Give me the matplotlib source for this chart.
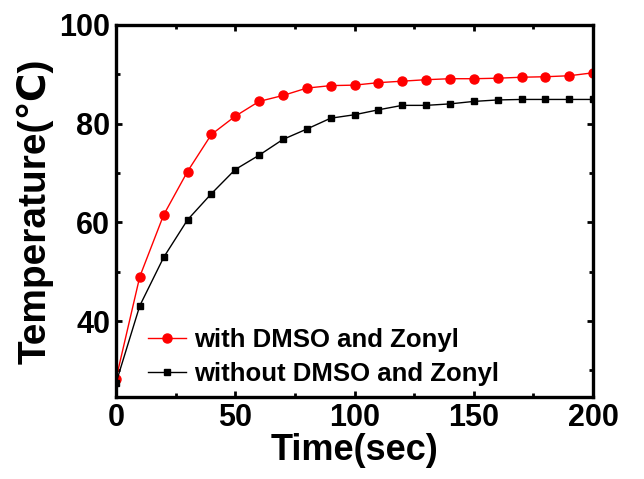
import matplotlib
matplotlib.use("Agg")
import matplotlib.pyplot as plt
from matplotlib.ticker import MultipleLocator

time_sec = [0, 10, 20, 30, 40, 50, 60, 70, 80, 90, 100,
            110, 120, 130, 140, 150, 160, 170, 180, 190, 200]
temp_with = [28.2, 49.0, 61.5, 70.3, 77.8, 81.5, 84.5, 85.7, 87.2, 87.7, 87.8,
             88.3, 88.6, 88.9, 89.1, 89.1, 89.2, 89.4, 89.5, 89.7, 90.3]
temp_without = [27.4, 43.1, 52.9, 60.5, 65.8, 70.7, 73.6, 76.8, 78.9, 81.1, 81.8,
                82.8, 83.7, 83.7, 84.0, 84.5, 84.8, 84.9, 84.9, 84.9, 84.9]

plt.rcParams['font.family'] = ['Liberation Sans', 'DejaVu Sans']
plt.rcParams['font.weight'] = 'bold'

fig = plt.figure(figsize=(6.44, 4.79), dpi=100)
ax = fig.add_axes([0.180, 0.171, 0.741, 0.777])

ax.plot(time_sec, temp_with, color='red', marker='o', markersize=6.5,
        linewidth=1.0, label='with DMSO and Zonyl')
ax.plot(time_sec, temp_without, color='black', marker='s', markersize=5,
        linewidth=1.0, label='without DMSO and Zonyl')

ax.set_xlim(0, 200)
ax.set_ylim(24.6, 100)
ax.xaxis.set_major_locator(MultipleLocator(50))
ax.xaxis.set_minor_locator(MultipleLocator(25))
ax.yaxis.set_major_locator(MultipleLocator(20))
ax.yaxis.set_minor_locator(MultipleLocator(10))

for s in ax.spines.values():
    s.set_linewidth(2.4)
ax.tick_params(which='both', direction='in', top=True, right=True,
               width=2.0, labelsize=22, pad=4)
ax.tick_params(which='major', length=4)
ax.tick_params(which='minor', length=3)
for lab in ax.get_xticklabels() + ax.get_yticklabels():
    lab.set_fontweight('bold')

ax.set_xlabel('Time(sec)', fontsize=26, fontweight='bold', labelpad=0)
ax.set_ylabel('Temperature(\u2103)', fontsize=28, fontweight='bold', labelpad=4)

ax.legend(loc='lower left', bbox_to_anchor=(0.067, 0.03), frameon=False,
          handlelength=1.5, handletextpad=0.3, borderpad=0,
          labelspacing=0.4, borderaxespad=0,
          prop={'weight': 'bold', 'size': 18.5})

fig.savefig('out.png', dpi=100)
